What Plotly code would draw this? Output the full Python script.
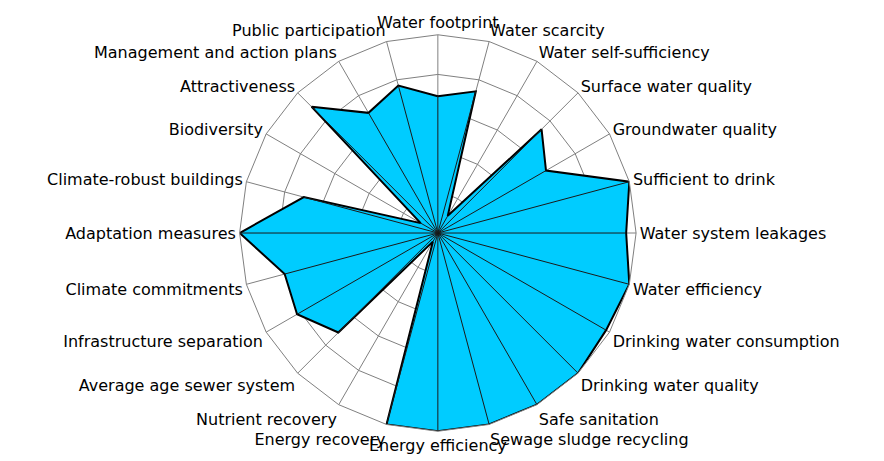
import plotly.graph_objects as go

# categories clockwise from the top
categories = ["Water footprint", "Water scarcity", "Water self-sufficiency",
              "Surface water quality", "Groundwater quality", "Sufficient to drink",
              "Water system leakages", "Water efficiency", "Drinking water consumption",
              "Drinking water quality", "Safe sanitation", "Sewage sludge recycling",
              "Energy efficiency", "Energy recovery", "Nutrient recovery",
              "Average age sewer system", "Infrastructure separation", "Climate commitments",
              "Adaptation measures", "Climate-robust buildings", "Biodiversity",
              "Attractiveness", "Management and action plans", "Public participation"]

scores = [6.9, 7.4, 1.0, 7.4, 6.3, 10, 9.5, 10, 9.8, 10, 10, 10,
          10, 10, 0.5, 7.1, 8.2, 8.0, 10, 7.0, 1.0, 9.0, 7.0, 7.7]

fill_color = "#00CCFF"
grid_color = "#808080"

fig = go.Figure()

fig.add_trace(go.Scatterpolar(
    r=scores + [scores[0]],
    theta=categories + [categories[0]],
    mode="lines",
    fill="toself",
    fillcolor=fill_color,
    line=dict(color="black", width=2),
    hoverinfo="skip",
    showlegend=False
))

# dark spokes over the filled area
spoke_r = []
spoke_theta = []
for c, v in zip(categories, scores):
    spoke_r += [0, v, None]
    spoke_theta += [c, c, None]

fig.add_trace(go.Scatterpolar(
    r=spoke_r,
    theta=spoke_theta,
    mode="lines",
    line=dict(color="#1a1a1a", width=1),
    hoverinfo="skip",
    showlegend=False
))

fig.update_layout(
    width=884,
    height=461,
    margin=dict(l=0, r=0, t=0, b=0),
    paper_bgcolor="white",
    plot_bgcolor="white",
    font=dict(family="DejaVu Sans", size=16, color="black"),
    polar=dict(
        domain=dict(x=[0.262, 0.7105], y=[0.0802, 0.9436]),
        bgcolor="white",
        gridshape="linear",
        radialaxis=dict(
            range=[0, 10],
            dtick=2,
            showticklabels=False,
            ticks="",
            showline=False,
            gridcolor=grid_color,
            gridwidth=1
        ),
        angularaxis=dict(
            type="category",
            categoryarray=categories,
            rotation=90,
            direction="clockwise",
            ticks="",
            showline=True,
            linecolor=grid_color,
            linewidth=1,
            gridcolor=grid_color,
            gridwidth=1,
            tickfont=dict(family="DejaVu Sans", size=16, color="black")
        )
    )
)

fig.write_html("out.html")
